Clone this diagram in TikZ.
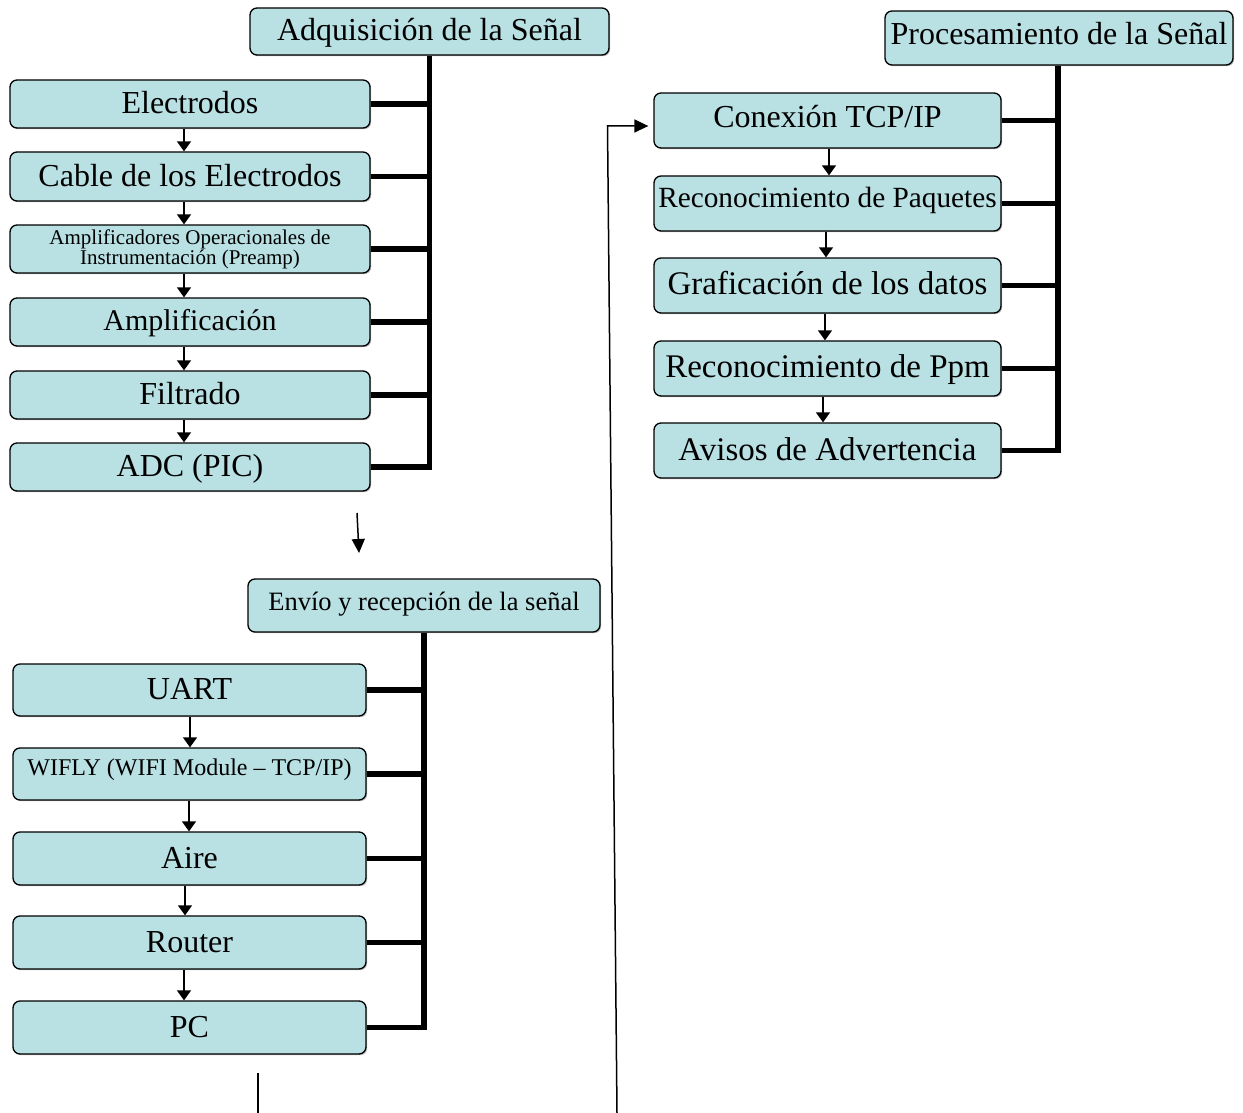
\documentclass[tikz,border=0pt]{standalone}
\usepackage{fontspec}
\setmainfont{Liberation Serif}
\usetikzlibrary{arrows.meta,shadows}
\definecolor{boxfill}{RGB}{185,224,227}
\tikzset{
  boxbase/.style={draw=black, line width=1.3pt, fill=boxfill, rounded corners=7pt,
    inner sep=0pt, align=center, font=\fontsize{32}{34}\selectfont,
    drop shadow={shadow xshift=1.2pt, shadow yshift=-1.2pt, fill=black!45, opacity=0.6}},
  box/.style={boxbase, text height=22pt, text depth=3pt},
  fs/.style n args={3}{font=\fontsize{#1}{#1}\selectfont, text height=#2, text depth=#3},
  branch/.style={line width=5.5pt, line join=miter, line cap=butt},
  sarrow/.style={line width=1.4pt, -{Triangle[width=14pt,length=10pt]}},
  farrow/.style={line width=1.5pt, -{Triangle[width=13pt,length=14pt]}},
  thinline/.style={line width=1.5pt}
}
\begin{document}
\begin{tikzpicture}[x=1pt,y=-1pt]
\useasboundingbox (0,0) rectangle (1243,1113);
% ---------- Adquisicion ----------
\node[box, minimum width=359pt, minimum height=47pt] (t1) at (429.5,31.5) {Adquisición de la Señal};
\node[box, minimum width=360pt, minimum height=48pt] (a1) at (190,104) {Electrodos};
\node[box, minimum width=360pt, minimum height=49pt] (a2) at (190,176.5) {Cable de los Electrodos};
\node[boxbase, minimum width=360pt, minimum height=48pt, font=\fontsize{21}{17}\selectfont] (a3) at (190,249) {Amplificadores Operacionales de\\Instrumentación (Preamp)};
\node[box, minimum width=360pt, minimum height=48pt, fs={30}{20.6pt}{2.9pt}] (a4) at (190,322) {Amplificación};
\node[box, minimum width=360pt, minimum height=48pt] (a5) at (190,395) {Filtrado};
\node[box, minimum width=360pt, minimum height=48pt] (a6) at (190,467) {ADC (PIC)};
\draw[branch] (t1.south) -- (t1.south |- a6.east) -- (a6.east);
\foreach \n in {a1,a2,a3,a4,a5}{\draw[branch] (\n.east) -- (\n.east -| t1.south);}
\foreach \u/\v in {a1/a2,a2/a3,a3/a4,a4/a5,a5/a6}{\draw[sarrow] ([xshift=-6pt]\u.south) -- ([xshift=-6pt]\v.north);}
% ---------- Envio ----------
\node[box, minimum width=352pt, minimum height=53pt, fs={26.5}{18.4pt}{8.4pt}] (t2) at (424,605.5) {Envío y recepción de la señal};
\node[box, minimum width=353pt, minimum height=52pt] (b1) at (189.5,690) {UART};
\node[box, minimum width=353pt, minimum height=52pt, fs={24}{17pt}{13.6pt}] (b2) at (189.5,774) {WIFLY (WIFI Module – TCP/IP)};
\node[box, minimum width=353pt, minimum height=53pt] (b3) at (189.5,858.5) {Aire};
\node[box, minimum width=353pt, minimum height=53pt] (b4) at (189.5,942.5) {Router};
\node[box, minimum width=353pt, minimum height=53pt] (b5) at (189.5,1027.5) {PC};
\draw[branch] (t2.south) -- (t2.south |- b5.east) -- (b5.east);
\foreach \n in {b1,b2,b3,b4}{\draw[branch] (\n.east) -- (\n.east -| t2.south);}
\draw[sarrow] ([xshift=0.5pt]b1.south) -- ([xshift=0.5pt]b2.north);
\draw[sarrow] ([xshift=-0.5pt]b2.south) -- ([xshift=-0.5pt]b3.north);
\draw[sarrow] ([xshift=-4.5pt]b3.south) -- ([xshift=-4.5pt]b4.north);
\draw[sarrow] ([xshift=-5.5pt]b4.south) -- ([xshift=-5.5pt]b5.north);
% ---------- Procesamiento ----------
\node[box, minimum width=348pt, minimum height=54pt, text depth=9pt] (t3) at (1059,38) {Procesamiento de la Señal};
\node[box, minimum width=347pt, minimum height=55pt, text depth=7pt] (c1) at (827.5,120.5) {Conexión TCP/IP};
\node[box, minimum width=347pt, minimum height=55pt, fs={29.3}{20.1pt}{12.9pt}] (c2) at (827.5,203.5) {Reconocimiento de Paquetes};
\node[box, minimum width=347pt, minimum height=55pt, fs={33}{22.7pt}{4.5pt}] (c3) at (827.5,285.5) {Graficación de los datos};
\node[box, minimum width=347pt, minimum height=55pt, fs={33}{22.7pt}{4.5pt}] (c4) at (827.5,368.5) {Reconocimiento de Ppm};
\node[box, minimum width=347pt, minimum height=55pt, fs={33}{22.7pt}{3.1pt}] (c5) at (827.5,450.5) {Avisos de Advertencia};
\draw[branch] ([xshift=-1pt]t3.south) -- ([xshift=-1pt]t3.south |- c5.east) -- (c5.east);
\foreach \n in {c1,c2,c3,c4}{\draw[branch] (\n.east) -- ([xshift=-1pt]\n.east -| t3.south);}
\draw[sarrow] ([xshift=1.5pt]c1.south) -- ([xshift=1.5pt]c2.north);
\draw[sarrow] ([xshift=-1.5pt]c2.south) -- ([xshift=-1.5pt]c3.north);
\draw[sarrow] ([xshift=-2.5pt]c3.south) -- ([xshift=-2.5pt]c4.north);
\draw[sarrow] ([xshift=-4.5pt]c4.south) -- ([xshift=-4.5pt]c5.north);
% ---------- free connectors ----------
\coordinate (p1) at (357,513);
\coordinate (p2) at (359,553);
\draw[farrow] (p1) -- (p2);
\coordinate (q1) at (258,1073);
\coordinate (q2) at (258,1113);
\draw[thinline] (q1) -- (q2);
\coordinate (r1) at (617,1113);
\coordinate (r2) at (607.5,126);
\draw[farrow, shorten >=5pt, line join=miter] (r1) -- (r2) -- (r2 -| c1.west);
\end{tikzpicture}
\end{document}
